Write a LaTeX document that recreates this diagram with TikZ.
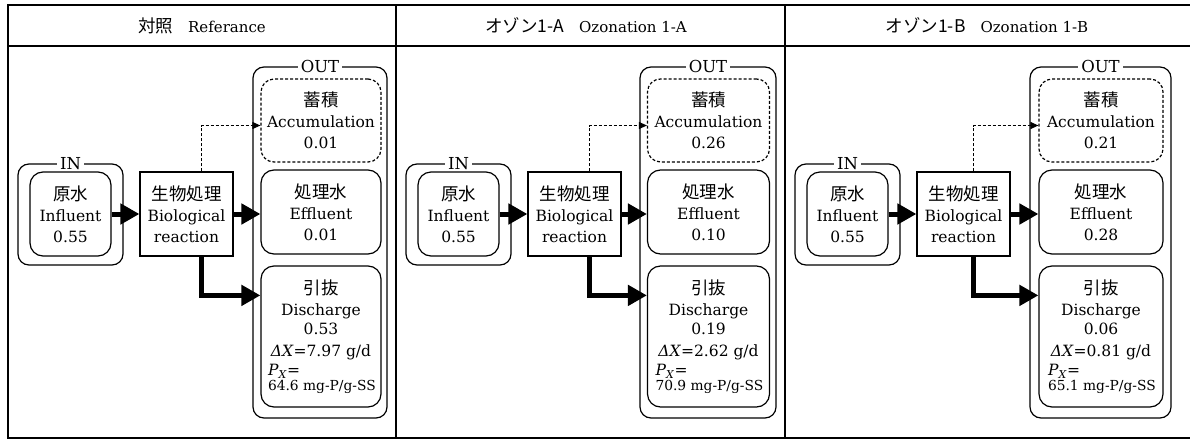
\documentclass[tikz,border=0pt]{standalone}
\usepackage{fontspec}
\setmainfont{DejaVu Serif}
\newfontfamily\jp{Noto Sans CJK JP}
\usetikzlibrary{arrows.meta}
\newcommand{\jtxt}[1]{{\jp\fontsize{17.5}{21}\selectfont #1}}
\newcommand{\pxline}[1]{\makebox[106pt][l]{\textit{P}\textsubscript{\textit{X}}=}\\[-6pt]%
  \makebox[106pt][l]{\fontsize{13.8}{15}\selectfont #1 mg-P/g-SS}}
\tikzset{
  frame/.style={line width=1.4pt},
  group/.style={draw, line width=1.2pt, rounded corners=11pt},
  item/.style={draw, line width=1.2pt, rounded corners=13pt, align=center, inner sep=0pt,
    font=\fontsize{15.5}{21}\selectfont},
  store/.style={item, dash pattern=on 3pt off 2pt},
  process/.style={item, rounded corners=0pt},
  tag/.style={fill=white, inner xsep=3pt, inner ysep=0pt, font=\fontsize{16.5}{16}\selectfont},
  head/.style={font=\fontsize{15}{16}\selectfont},
  flow/.style={line width=5pt, -{Triangle[length=19pt,width=20pt]}},
  stock/.style={line width=1pt, dash pattern=on 3pt off 2pt, -{Triangle[length=8pt,width=7pt]}},
}
\begin{document}
\begin{tikzpicture}[x=1pt, y=-1pt]
    \useasboundingbox (0,0) rectangle (1190,439);
    % table frame and headers
    \draw[frame] (1190,5) -- (8,5) -- (8,438) -- (1190,438);
    \draw[frame] (8,46) -- (1190,46);
    \draw[frame] (396,5) -- (396,438);
    \draw[frame] (785,5) -- (785,438);
    \node[head] (h1) at (202,25.5) {\jtxt{対照}\hspace{15pt}Referance};
    \node[head] (h2) at (586,25.5) {\jtxt{オゾン1-A}\hspace{15pt}Ozonation 1-A};
    \node[head] (h3) at (987,25.5) {\jtxt{オゾン1-B}\hspace{15pt}Ozonation 1-B};

    % Panel 1: Referance
    \begin{scope}
        \node[group, minimum width=105pt, minimum height=101pt] (in1) at (70.5,214.5) {};
        \node[tag] at (in1.north) {IN};
        \node[item, minimum width=81pt, minimum height=84pt] (raw1) at (70.5,214) {\jtxt{原水}\\Influent\\0.55};
        \node[process, minimum width=93pt, minimum height=84pt] (bio1) at (186.5,214) {\jtxt{生物処理}\\Biological\\reaction};
        \node[group, minimum width=134pt, minimum height=351pt] (out1) at (320,242.5) {};
        \node[tag] at (out1.north) {OUT};
        \node[store, minimum width=120pt, minimum height=83pt] (acc1) at (321,120.5) {\jtxt{蓄積}\\Accumulation\\0.01};
        \node[item, minimum width=120pt, minimum height=84pt] (eff1) at (321,212) {\jtxt{処理水}\\Effluent\\0.01};
        \node[item, minimum width=120pt, minimum height=141pt] (dis1) at (321,336.5)
            {\jtxt{引抜}\\Discharge\\[-2pt]0.53\\[1pt]\textit{ΔX}=7.97 g/d\\[-2pt]\pxline{64.6}};
        \draw[flow] (raw1) -- (bio1);
        \draw[flow] (bio1.east) -- (bio1.east -| eff1.west);
        \draw[flow] ([xshift=15pt]bio1.south) |- ([yshift=-30pt]dis1.north west);
        \draw[stock] ([xshift=15pt]bio1.north) |- ([yshift=-5pt]acc1.west);
    \end{scope}

    % Panel 2: Ozonation 1-A
    \begin{scope}[shift={(388,0)}]
        \node[group, minimum width=105pt, minimum height=101pt] (in2) at (70.5,214.5) {};
        \node[tag] at (in2.north) {IN};
        \node[item, minimum width=81pt, minimum height=84pt] (raw2) at (70.5,214) {\jtxt{原水}\\Influent\\0.55};
        \node[process, minimum width=93pt, minimum height=84pt] (bio2) at (186.5,214) {\jtxt{生物処理}\\Biological\\reaction};
        \node[group, minimum width=136pt, minimum height=351pt] (out2) at (320,242.5) {};
        \node[tag] at (out2.north) {OUT};
        \node[store, minimum width=122pt, minimum height=83pt] (acc2) at (320.5,120.5) {\jtxt{蓄積}\\Accumulation\\0.26};
        \node[item, minimum width=122pt, minimum height=84pt] (eff2) at (320.5,212) {\jtxt{処理水}\\Effluent\\0.10};
        \node[item, minimum width=122pt, minimum height=141pt] (dis2) at (320.5,336.5)
            {\jtxt{引抜}\\Discharge\\[-2pt]0.19\\[1pt]\textit{ΔX}=2.62 g/d\\[-2pt]\pxline{70.9}};
        \draw[flow] (raw2) -- (bio2);
        \draw[flow] (bio2.east) -- (bio2.east -| eff2.west);
        \draw[flow] ([xshift=15pt]bio2.south) |- ([yshift=-30pt]dis2.north west);
        \draw[stock] ([xshift=15pt]bio2.north) |- ([yshift=-5pt]acc2.west);
    \end{scope}

    % Panel 3: Ozonation 1-B
    \begin{scope}[shift={(777,0)}]
        \node[group, minimum width=105pt, minimum height=101pt] (in3) at (70.5,214.5) {};
        \node[tag] at (in3.north) {IN};
        \node[item, minimum width=81pt, minimum height=84pt] (raw3) at (70.5,214) {\jtxt{原水}\\Influent\\0.55};
        \node[process, minimum width=93pt, minimum height=84pt] (bio3) at (186.5,214) {\jtxt{生物処理}\\Biological\\reaction};
        \node[group, minimum width=141pt, minimum height=351pt] (out3) at (323.5,242.5) {};
        \node[tag] at (out3.north) {OUT};
        \node[store, minimum width=124pt, minimum height=83pt] (acc3) at (324,120.5) {\jtxt{蓄積}\\Accumulation\\0.21};
        \node[item, minimum width=124pt, minimum height=84pt] (eff3) at (324,212) {\jtxt{処理水}\\Effluent\\0.28};
        \node[item, minimum width=124pt, minimum height=141pt] (dis3) at (324,336.5)
            {\jtxt{引抜}\\Discharge\\[-2pt]0.06\\[1pt]\textit{ΔX}=0.81 g/d\\[-2pt]\pxline{65.1}};
        \draw[flow] (raw3) -- (bio3);
        \draw[flow] (bio3.east) -- (bio3.east -| eff3.west);
        \draw[flow] ([xshift=10pt]bio3.south) |- ([yshift=-30pt]dis3.north west);
        \draw[stock] ([xshift=10pt]bio3.north) |- ([yshift=-5pt]acc3.west);
    \end{scope}
\end{tikzpicture}
\end{document}
